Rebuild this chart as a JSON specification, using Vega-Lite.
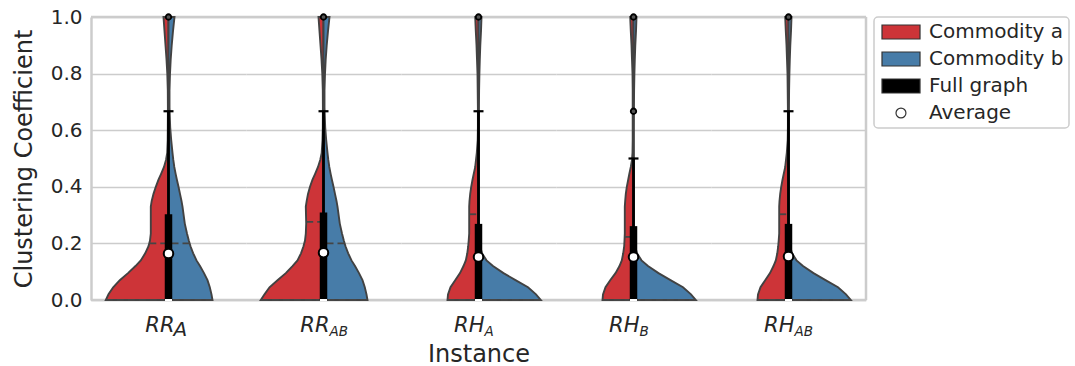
{
  "$schema": "https://vega.github.io/schema/vega-lite/v6.json",
  "padding": {"left": 12, "top": 7, "right": 2, "bottom": 2},
  "bounds": "flush",
  "config": {
    "font": "DejaVu Sans",
    "view": {"stroke": null},
    "axis": {"labelFontSize": 20, "titleFontSize": 24},
    "legend": {
      "orient": "right", "offset": 6, "padding": 5,
      "strokeColor": "#cccccc", "strokeWidth": 1.5, "cornerRadius": 4, "fillColor": "white",
      "labelFontSize": 20, "labelColor": "#262626", "labelFont": "DejaVu Sans", "labelLimit": 0,
      "symbolSize": 196, "rowPadding": 7, "labelOffset": 30,
      "symbolStrokeColor": "#333333", "symbolStrokeWidth": 1.2
    }
  },
  "data": {"values": [
    {"kind":"v","inst":"RR_A","y":0,"a":62.7,"b":44},
    {"kind":"v","inst":"RR_A","y":0.02,"a":60,"b":43},
    {"kind":"v","inst":"RR_A","y":0.045,"a":55.3,"b":41.3},
    {"kind":"v","inst":"RR_A","y":0.07,"a":48.7,"b":39},
    {"kind":"v","inst":"RR_A","y":0.095,"a":40.5,"b":35.5},
    {"kind":"v","inst":"RR_A","y":0.12,"a":33,"b":31.5},
    {"kind":"v","inst":"RR_A","y":0.14,"a":27.7,"b":28},
    {"kind":"v","inst":"RR_A","y":0.165,"a":23.3,"b":24.7},
    {"kind":"v","inst":"RR_A","y":0.19,"a":20,"b":22},
    {"kind":"v","inst":"RR_A","y":0.21,"a":18.5,"b":20.3},
    {"kind":"v","inst":"RR_A","y":0.235,"a":17.7,"b":18.5},
    {"kind":"v","inst":"RR_A","y":0.27,"a":17.7,"b":16.3},
    {"kind":"v","inst":"RR_A","y":0.33,"a":17.7,"b":14},
    {"kind":"v","inst":"RR_A","y":0.35,"a":16.8,"b":13},
    {"kind":"v","inst":"RR_A","y":0.375,"a":15,"b":11.5},
    {"kind":"v","inst":"RR_A","y":0.4,"a":12.7,"b":10},
    {"kind":"v","inst":"RR_A","y":0.425,"a":10,"b":8.4},
    {"kind":"v","inst":"RR_A","y":0.445,"a":7.5,"b":7.2},
    {"kind":"v","inst":"RR_A","y":0.47,"a":4.5,"b":5.8},
    {"kind":"v","inst":"RR_A","y":0.495,"a":2.5,"b":4.8},
    {"kind":"v","inst":"RR_A","y":0.52,"a":1.3,"b":4},
    {"kind":"v","inst":"RR_A","y":0.565,"a":0.8,"b":2.7},
    {"kind":"v","inst":"RR_A","y":0.61,"a":0.7,"b":1.7},
    {"kind":"v","inst":"RR_A","y":0.68,"a":0.6,"b":1},
    {"kind":"v","inst":"RR_A","y":0.74,"a":0.7,"b":1},
    {"kind":"v","inst":"RR_A","y":0.8,"a":1.2,"b":1.5},
    {"kind":"v","inst":"RR_A","y":0.85,"a":2,"b":2.2},
    {"kind":"v","inst":"RR_A","y":0.9,"a":3,"b":3.2},
    {"kind":"v","inst":"RR_A","y":0.95,"a":4,"b":4.5},
    {"kind":"v","inst":"RR_A","y":1,"a":5,"b":6},

    {"kind":"v","inst":"RR_AB","y":0,"a":62.7,"b":44},
    {"kind":"v","inst":"RR_AB","y":0.02,"a":59,"b":43},
    {"kind":"v","inst":"RR_AB","y":0.045,"a":54,"b":41.3},
    {"kind":"v","inst":"RR_AB","y":0.07,"a":46,"b":39},
    {"kind":"v","inst":"RR_AB","y":0.095,"a":37.7,"b":35.5},
    {"kind":"v","inst":"RR_AB","y":0.12,"a":31,"b":31.5},
    {"kind":"v","inst":"RR_AB","y":0.14,"a":26,"b":28},
    {"kind":"v","inst":"RR_AB","y":0.165,"a":22.5,"b":24.7},
    {"kind":"v","inst":"RR_AB","y":0.19,"a":20,"b":22},
    {"kind":"v","inst":"RR_AB","y":0.21,"a":18.5,"b":20.3},
    {"kind":"v","inst":"RR_AB","y":0.235,"a":17.7,"b":18.5},
    {"kind":"v","inst":"RR_AB","y":0.27,"a":17.3,"b":16.3},
    {"kind":"v","inst":"RR_AB","y":0.33,"a":17.7,"b":14},
    {"kind":"v","inst":"RR_AB","y":0.35,"a":16.8,"b":13},
    {"kind":"v","inst":"RR_AB","y":0.375,"a":15.5,"b":11.5},
    {"kind":"v","inst":"RR_AB","y":0.4,"a":13.5,"b":10},
    {"kind":"v","inst":"RR_AB","y":0.425,"a":11,"b":8.4},
    {"kind":"v","inst":"RR_AB","y":0.445,"a":8.5,"b":7.2},
    {"kind":"v","inst":"RR_AB","y":0.47,"a":5.5,"b":5.8},
    {"kind":"v","inst":"RR_AB","y":0.495,"a":3.3,"b":4.8},
    {"kind":"v","inst":"RR_AB","y":0.52,"a":1.8,"b":4},
    {"kind":"v","inst":"RR_AB","y":0.565,"a":1,"b":2.7},
    {"kind":"v","inst":"RR_AB","y":0.61,"a":0.7,"b":1.7},
    {"kind":"v","inst":"RR_AB","y":0.68,"a":0.6,"b":1},
    {"kind":"v","inst":"RR_AB","y":0.74,"a":0.7,"b":1},
    {"kind":"v","inst":"RR_AB","y":0.8,"a":1.2,"b":1.5},
    {"kind":"v","inst":"RR_AB","y":0.85,"a":2,"b":2.2},
    {"kind":"v","inst":"RR_AB","y":0.9,"a":3,"b":3.2},
    {"kind":"v","inst":"RR_AB","y":0.95,"a":4,"b":4.5},
    {"kind":"v","inst":"RR_AB","y":1,"a":5,"b":6},

    {"kind":"v","inst":"RH_A","y":0,"a":31,"b":62.3},
    {"kind":"v","inst":"RH_A","y":0.02,"a":30.5,"b":57.5},
    {"kind":"v","inst":"RH_A","y":0.045,"a":28,"b":49.5},
    {"kind":"v","inst":"RH_A","y":0.07,"a":23.3,"b":37},
    {"kind":"v","inst":"RH_A","y":0.095,"a":18.5,"b":25},
    {"kind":"v","inst":"RH_A","y":0.12,"a":15,"b":14.5},
    {"kind":"v","inst":"RH_A","y":0.14,"a":12.7,"b":8},
    {"kind":"v","inst":"RH_A","y":0.165,"a":11.2,"b":3.5},
    {"kind":"v","inst":"RH_A","y":0.19,"a":10.3,"b":1.5},
    {"kind":"v","inst":"RH_A","y":0.21,"a":9.8,"b":0.7},
    {"kind":"v","inst":"RH_A","y":0.235,"a":9.3,"b":0.4},
    {"kind":"v","inst":"RH_A","y":0.27,"a":9.3,"b":0.3},
    {"kind":"v","inst":"RH_A","y":0.33,"a":9.3,"b":0.3},
    {"kind":"v","inst":"RH_A","y":0.35,"a":9,"b":0.3},
    {"kind":"v","inst":"RH_A","y":0.375,"a":8.3,"b":0.3},
    {"kind":"v","inst":"RH_A","y":0.4,"a":7.3,"b":0.3},
    {"kind":"v","inst":"RH_A","y":0.425,"a":6,"b":0.3},
    {"kind":"v","inst":"RH_A","y":0.445,"a":4.8,"b":0.3},
    {"kind":"v","inst":"RH_A","y":0.47,"a":3.3,"b":0.3},
    {"kind":"v","inst":"RH_A","y":0.495,"a":2.5,"b":0.3},
    {"kind":"v","inst":"RH_A","y":0.52,"a":1.7,"b":0.3},
    {"kind":"v","inst":"RH_A","y":0.565,"a":0.8,"b":0.3},
    {"kind":"v","inst":"RH_A","y":0.61,"a":0.6,"b":0.3},
    {"kind":"v","inst":"RH_A","y":0.68,"a":0.6,"b":0.4},
    {"kind":"v","inst":"RH_A","y":0.74,"a":0.8,"b":0.6},
    {"kind":"v","inst":"RH_A","y":0.8,"a":1,"b":0.9},
    {"kind":"v","inst":"RH_A","y":0.85,"a":1.5,"b":1.3},
    {"kind":"v","inst":"RH_A","y":0.9,"a":2,"b":1.8},
    {"kind":"v","inst":"RH_A","y":0.95,"a":2.7,"b":2.5},
    {"kind":"v","inst":"RH_A","y":1,"a":3.3,"b":3},

    {"kind":"v","inst":"RH_B","y":0,"a":31,"b":62.3},
    {"kind":"v","inst":"RH_B","y":0.02,"a":30.5,"b":57.5},
    {"kind":"v","inst":"RH_B","y":0.045,"a":28,"b":49.5},
    {"kind":"v","inst":"RH_B","y":0.07,"a":23.3,"b":37},
    {"kind":"v","inst":"RH_B","y":0.095,"a":18,"b":25},
    {"kind":"v","inst":"RH_B","y":0.12,"a":14,"b":14.5},
    {"kind":"v","inst":"RH_B","y":0.14,"a":11.7,"b":8},
    {"kind":"v","inst":"RH_B","y":0.165,"a":10.3,"b":3.5},
    {"kind":"v","inst":"RH_B","y":0.19,"a":9.3,"b":1.5},
    {"kind":"v","inst":"RH_B","y":0.21,"a":9,"b":0.7},
    {"kind":"v","inst":"RH_B","y":0.235,"a":8.7,"b":0.4},
    {"kind":"v","inst":"RH_B","y":0.27,"a":8.7,"b":0.3},
    {"kind":"v","inst":"RH_B","y":0.33,"a":8.7,"b":0.3},
    {"kind":"v","inst":"RH_B","y":0.35,"a":8.3,"b":0.3},
    {"kind":"v","inst":"RH_B","y":0.375,"a":7.7,"b":0.3},
    {"kind":"v","inst":"RH_B","y":0.4,"a":6.7,"b":0.3},
    {"kind":"v","inst":"RH_B","y":0.425,"a":5.3,"b":0.3},
    {"kind":"v","inst":"RH_B","y":0.445,"a":4.2,"b":0.3},
    {"kind":"v","inst":"RH_B","y":0.47,"a":2.7,"b":0.3},
    {"kind":"v","inst":"RH_B","y":0.495,"a":1.5,"b":0.3},
    {"kind":"v","inst":"RH_B","y":0.52,"a":1,"b":0.3},
    {"kind":"v","inst":"RH_B","y":0.565,"a":0.8,"b":0.3},
    {"kind":"v","inst":"RH_B","y":0.61,"a":0.8,"b":0.3},
    {"kind":"v","inst":"RH_B","y":0.68,"a":0.8,"b":0.4},
    {"kind":"v","inst":"RH_B","y":0.74,"a":0.8,"b":0.6},
    {"kind":"v","inst":"RH_B","y":0.8,"a":1,"b":0.9},
    {"kind":"v","inst":"RH_B","y":0.85,"a":1.5,"b":1.3},
    {"kind":"v","inst":"RH_B","y":0.9,"a":2,"b":1.8},
    {"kind":"v","inst":"RH_B","y":0.95,"a":2.7,"b":2.5},
    {"kind":"v","inst":"RH_B","y":1,"a":3.3,"b":3},

    {"kind":"v","inst":"RH_AB","y":0,"a":31,"b":62.3},
    {"kind":"v","inst":"RH_AB","y":0.02,"a":30.5,"b":57.5},
    {"kind":"v","inst":"RH_AB","y":0.045,"a":28,"b":49.5},
    {"kind":"v","inst":"RH_AB","y":0.07,"a":23.3,"b":37},
    {"kind":"v","inst":"RH_AB","y":0.095,"a":18.5,"b":25},
    {"kind":"v","inst":"RH_AB","y":0.12,"a":15,"b":14.5},
    {"kind":"v","inst":"RH_AB","y":0.14,"a":12.7,"b":8},
    {"kind":"v","inst":"RH_AB","y":0.165,"a":11.2,"b":3.5},
    {"kind":"v","inst":"RH_AB","y":0.19,"a":10.3,"b":1.5},
    {"kind":"v","inst":"RH_AB","y":0.21,"a":9.8,"b":0.7},
    {"kind":"v","inst":"RH_AB","y":0.235,"a":9.3,"b":0.4},
    {"kind":"v","inst":"RH_AB","y":0.27,"a":9.3,"b":0.3},
    {"kind":"v","inst":"RH_AB","y":0.33,"a":9.3,"b":0.3},
    {"kind":"v","inst":"RH_AB","y":0.35,"a":9,"b":0.3},
    {"kind":"v","inst":"RH_AB","y":0.375,"a":8.3,"b":0.3},
    {"kind":"v","inst":"RH_AB","y":0.4,"a":7.3,"b":0.3},
    {"kind":"v","inst":"RH_AB","y":0.425,"a":6,"b":0.3},
    {"kind":"v","inst":"RH_AB","y":0.445,"a":4.8,"b":0.3},
    {"kind":"v","inst":"RH_AB","y":0.47,"a":3.3,"b":0.3},
    {"kind":"v","inst":"RH_AB","y":0.495,"a":2.5,"b":0.3},
    {"kind":"v","inst":"RH_AB","y":0.52,"a":1.7,"b":0.3},
    {"kind":"v","inst":"RH_AB","y":0.565,"a":0.8,"b":0.3},
    {"kind":"v","inst":"RH_AB","y":0.61,"a":0.6,"b":0.3},
    {"kind":"v","inst":"RH_AB","y":0.68,"a":0.6,"b":0.4},
    {"kind":"v","inst":"RH_AB","y":0.74,"a":0.8,"b":0.6},
    {"kind":"v","inst":"RH_AB","y":0.8,"a":1,"b":0.9},
    {"kind":"v","inst":"RH_AB","y":0.85,"a":1.5,"b":1.3},
    {"kind":"v","inst":"RH_AB","y":0.9,"a":2,"b":1.8},
    {"kind":"v","inst":"RH_AB","y":0.95,"a":2.7,"b":2.5},
    {"kind":"v","inst":"RH_AB","y":1,"a":3.3,"b":3},

    {"kind":"box","inst":"RR_A","q1":0,"q3":0.303,"med":0,"wlo":0,"whi":0.667,"mean":0.164},
    {"kind":"box","inst":"RR_AB","q1":0,"q3":0.309,"med":0,"wlo":0,"whi":0.667,"mean":0.167},
    {"kind":"box","inst":"RH_A","q1":0,"q3":0.269,"med":0,"wlo":0,"whi":0.667,"mean":0.152},
    {"kind":"box","inst":"RH_B","q1":0,"q3":0.261,"med":0,"wlo":0,"whi":0.5,"mean":0.152},
    {"kind":"box","inst":"RH_AB","q1":0,"q3":0.269,"med":0,"wlo":0,"whi":0.667,"mean":0.154},

    {"kind":"flier","inst":"RR_A","y":1},
    {"kind":"flier","inst":"RR_AB","y":1},
    {"kind":"flier","inst":"RH_A","y":1},
    {"kind":"flier","inst":"RH_B","y":0.667},
    {"kind":"flier","inst":"RH_B","y":1},
    {"kind":"flier","inst":"RH_AB","y":1},

    {"kind":"q","inst":"RR_A","side":"a","y":0,"w":62.7},
    {"kind":"q","inst":"RR_A","side":"a","y":0.2,"w":19.2},
    {"kind":"q","inst":"RR_A","side":"b","y":0,"w":44},
    {"kind":"q","inst":"RR_A","side":"b","y":0.2,"w":21},
    {"kind":"q","inst":"RR_AB","side":"a","y":0,"w":62.7},
    {"kind":"q","inst":"RR_AB","side":"a","y":0.276,"w":17.3},
    {"kind":"q","inst":"RR_AB","side":"b","y":0,"w":44},
    {"kind":"q","inst":"RR_AB","side":"b","y":0.2,"w":21},
    {"kind":"q","inst":"RH_A","side":"a","y":0,"w":31},
    {"kind":"q","inst":"RH_A","side":"a","y":0.303,"w":9.3},
    {"kind":"q","inst":"RH_A","side":"b","y":0,"w":62.3},
    {"kind":"q","inst":"RH_B","side":"a","y":0,"w":31},
    {"kind":"q","inst":"RH_B","side":"a","y":0.223,"w":8.9},
    {"kind":"q","inst":"RH_B","side":"b","y":0,"w":62.3},
    {"kind":"q","inst":"RH_AB","side":"a","y":0,"w":31},
    {"kind":"q","inst":"RH_AB","side":"a","y":0.303,"w":9.3},
    {"kind":"q","inst":"RH_AB","side":"b","y":0,"w":62.3},

    {"kind":"lab","inst":"RR_A","main":"RR","sub":"A","big":true},
    {"kind":"lab","inst":"RR_AB","main":"RR","sub":"AB","big":false},
    {"kind":"lab","inst":"RH_A","main":"RH","sub":"A","big":false},
    {"kind":"lab","inst":"RH_B","main":"RH","sub":"B","big":false},
    {"kind":"lab","inst":"RH_AB","main":"RH","sub":"AB","big":false}
  ]},
  "spacing": 0,
  "facet": {
    "column": {
      "field": "inst", "type": "nominal",
      "sort": ["RR_A", "RR_AB", "RH_A", "RH_B", "RH_AB"],
      "header": {
        "title": "Instance", "titleOrient": "bottom", "labelOrient": "bottom", "labels": false,
        "titleFontSize": 24, "titleFontWeight": "normal", "titleColor": "#262626",
        "titleFont": "DejaVu Sans", "titlePadding": 33
      }
    }
  },
  "spec": {
    "width": 155,
    "height": 283,
    "resolve": {"scale": {"x": "independent"}},
    "layer": [
      {
        "transform": [{"filter": {"field": "kind", "equal": "box"}}],
        "mark": {"type": "rule", "color": "#cccccc", "strokeWidth": 2.5},
        "encoding": {
          "y": {"datum": 0, "type": "quantitative", "scale": {"domain": [0, 1], "nice": false},
            "axis": {
              "title": "Clustering Coefficient", "titleFontSize": 24, "titleFontWeight": "normal",
              "titleColor": "#262626", "titlePadding": 14,
              "labelFontSize": 20, "labelColor": "#262626", "labelPadding": 9, "labelFlush": false,
              "values": [0, 0.2, 0.4, 0.6, 0.8, 1], "format": ".1f", "ticks": false,
              "domainColor": "#cccccc", "domainWidth": 2.5,
              "grid": true, "gridColor": "#cccccc", "gridWidth": 1.3
            }
          }
        }
      },
      {
        "transform": [{"filter": {"field": "kind", "equal": "box"}}],
        "mark": {"type": "rule", "color": "#cccccc", "strokeWidth": 2.5},
        "encoding": {"y": {"datum": 1, "type": "quantitative", "scale": {"domain": [0, 1]}}}
      },
      {
        "transform": [{"filter": {"field": "kind", "equal": "box"}}, {"filter": {"field": "inst", "equal": "RH_AB"}}],
        "mark": {"type": "rule", "color": "#cccccc", "strokeWidth": 2.5},
        "encoding": {"x": {"datum": 77.5, "type": "quantitative", "scale": {"domain": [-77.5, 77.5]}, "axis": null}}
      },
      {
        "transform": [{"filter": {"field": "kind", "equal": "v"}}],
        "mark": {"type": "area", "orient": "horizontal", "color": "#cd3438", "stroke": "#424242", "strokeWidth": 1.9, "opacity": 1},
        "encoding": {
          "y": {"field": "y", "type": "quantitative", "scale": {"domain": [0, 1]}},
          "x": {"field": "a", "type": "quantitative", "scale": {"domain": [-77.5, 77.5], "reverse": true}, "axis": null},
          "x2": {"datum": 0}
        }
      },
      {
        "transform": [{"filter": {"field": "kind", "equal": "v"}}],
        "mark": {"type": "area", "orient": "horizontal", "color": "#477ca8", "stroke": "#424242", "strokeWidth": 1.9, "opacity": 1},
        "encoding": {
          "y": {"field": "y", "type": "quantitative", "scale": {"domain": [0, 1]}},
          "x": {"field": "b", "type": "quantitative", "scale": {"domain": [-77.5, 77.5]}, "axis": null},
          "x2": {"datum": 0}
        }
      },
      {
        "transform": [{"filter": {"field": "kind", "equal": "q"}}, {"filter": {"field": "side", "equal": "a"}}],
        "mark": {"type": "rule", "color": "#454545", "strokeWidth": 1.8, "strokeDash": [7, 4]},
        "encoding": {
          "y": {"field": "y", "type": "quantitative", "scale": {"domain": [0, 1]}},
          "x": {"field": "w", "type": "quantitative", "scale": {"domain": [-77.5, 77.5], "reverse": true}, "axis": null},
          "x2": {"datum": 0}
        }
      },
      {
        "transform": [{"filter": {"field": "kind", "equal": "q"}}, {"filter": {"field": "side", "equal": "b"}}],
        "mark": {"type": "rule", "color": "#454545", "strokeWidth": 1.8, "strokeDash": [7, 4]},
        "encoding": {
          "y": {"field": "y", "type": "quantitative", "scale": {"domain": [0, 1]}},
          "x": {"field": "w", "type": "quantitative", "scale": {"domain": [-77.5, 77.5]}, "axis": null},
          "x2": {"datum": 0}
        }
      },
      {
        "transform": [{"filter": {"field": "kind", "equal": "box"}}],
        "mark": {"type": "rule", "color": "black", "strokeWidth": 2.8},
        "encoding": {
          "x": {"datum": 0, "type": "quantitative", "scale": {"domain": [-77.5, 77.5]}, "axis": null},
          "y": {"field": "wlo", "type": "quantitative", "scale": {"domain": [0, 1]}},
          "y2": {"field": "whi"}
        }
      },
      {
        "transform": [{"filter": {"field": "kind", "equal": "box"}}],
        "mark": {"type": "rule", "color": "black", "strokeWidth": 7.5},
        "encoding": {
          "x": {"datum": 0, "type": "quantitative", "scale": {"domain": [-77.5, 77.5]}, "axis": null},
          "y": {"field": "q1", "type": "quantitative", "scale": {"domain": [0, 1]}},
          "y2": {"field": "q3"}
        }
      },
      {
        "transform": [{"filter": {"field": "kind", "equal": "box"}}],
        "mark": {"type": "tick", "orient": "horizontal", "color": "white", "size": 7, "thickness": 2, "opacity": 1},
        "encoding": {
          "x": {"datum": 0, "type": "quantitative", "scale": {"domain": [-77.5, 77.5]}, "axis": null},
          "y": {"field": "med", "type": "quantitative", "scale": {"domain": [0, 1]}}
        }
      },
      {
        "transform": [{"filter": {"field": "kind", "equal": "box"}}],
        "mark": {"type": "tick", "orient": "horizontal", "color": "black", "size": 10, "thickness": 2.2, "opacity": 1},
        "encoding": {
          "x": {"datum": 0, "type": "quantitative", "scale": {"domain": [-77.5, 77.5]}, "axis": null},
          "y": {"field": "whi", "type": "quantitative", "scale": {"domain": [0, 1]}}
        }
      },
      {
        "transform": [{"filter": {"field": "kind", "equal": "flier"}}],
        "mark": {"type": "point", "shape": "circle", "filled": true, "fill": "#555555", "stroke": "black", "strokeWidth": 1.8, "size": 30, "opacity": 1},
        "encoding": {
          "x": {"datum": 0, "type": "quantitative", "scale": {"domain": [-77.5, 77.5]}, "axis": null},
          "y": {"field": "y", "type": "quantitative", "scale": {"domain": [0, 1]}}
        }
      },
      {
        "transform": [{"filter": {"field": "kind", "equal": "box"}}],
        "mark": {"type": "point", "shape": "circle", "filled": true, "fill": "white", "stroke": "black", "strokeWidth": 2, "size": 90, "opacity": 1},
        "encoding": {
          "x": {"datum": 0, "type": "quantitative", "scale": {"domain": [-77.5, 77.5]}, "axis": null},
          "y": {"field": "mean", "type": "quantitative", "scale": {"domain": [0, 1]}}
        }
      },
      {
        "transform": [{"filter": {"field": "kind", "equal": "legendonly"}}],
        "mark": {"type": "point", "filled": true, "opacity": 1},
        "encoding": {
          "color": {"field": "series", "type": "nominal", "title": null,
            "scale": {"domain": ["Commodity a", "Commodity b", "Full graph", "Average"], "range": ["#cd3438", "#477ca8", "#000000", "#ffffff"]}},
          "shape": {"field": "series", "type": "nominal", "title": null,
            "scale": {"domain": ["Commodity a", "Commodity b", "Full graph", "Average"],
              "range": ["M-1,-1H4.43V1H-1Z", "M-1,-1H4.43V1H-1Z", "M-1,-1H4.43V1H-1Z", "M1,0A0.71,0.71 0 1 0 2.42,0A0.71,0.71 0 1 0 1,0Z"]}}
        }
      },
      {
        "transform": [{"filter": {"field": "kind", "equal": "lab"}}],
        "mark": {"type": "text", "align": "right", "baseline": "alphabetic", "fontSize": 21, "fontStyle": "italic", "dx": 6, "color": "#262626"},
        "encoding": {
          "x": {"datum": 0, "type": "quantitative", "scale": {"domain": [-77.5, 77.5]}, "axis": null},
          "y": {"datum": -0.112, "type": "quantitative", "scale": {"domain": [0, 1]}},
          "text": {"field": "main"}
        }
      },
      {
        "transform": [{"filter": {"field": "kind", "equal": "lab"}}, {"filter": {"field": "big", "equal": false}}],
        "mark": {"type": "text", "align": "left", "baseline": "alphabetic", "fontSize": 13.5, "fontStyle": "italic", "dx": 6, "dy": 4, "color": "#262626"},
        "encoding": {
          "x": {"datum": 0, "type": "quantitative", "scale": {"domain": [-77.5, 77.5]}, "axis": null},
          "y": {"datum": -0.112, "type": "quantitative", "scale": {"domain": [0, 1]}},
          "text": {"field": "sub"}
        }
      },
      {
        "transform": [{"filter": {"field": "kind", "equal": "lab"}}, {"filter": {"field": "big", "equal": true}}],
        "mark": {"type": "text", "align": "left", "baseline": "alphabetic", "fontSize": 20, "fontStyle": "italic", "dx": 5, "dy": 4, "color": "#262626"},
        "encoding": {
          "x": {"datum": 0, "type": "quantitative", "scale": {"domain": [-77.5, 77.5]}, "axis": null},
          "y": {"datum": -0.112, "type": "quantitative", "scale": {"domain": [0, 1]}},
          "text": {"field": "sub"}
        }
      }
    ]
  }
}
